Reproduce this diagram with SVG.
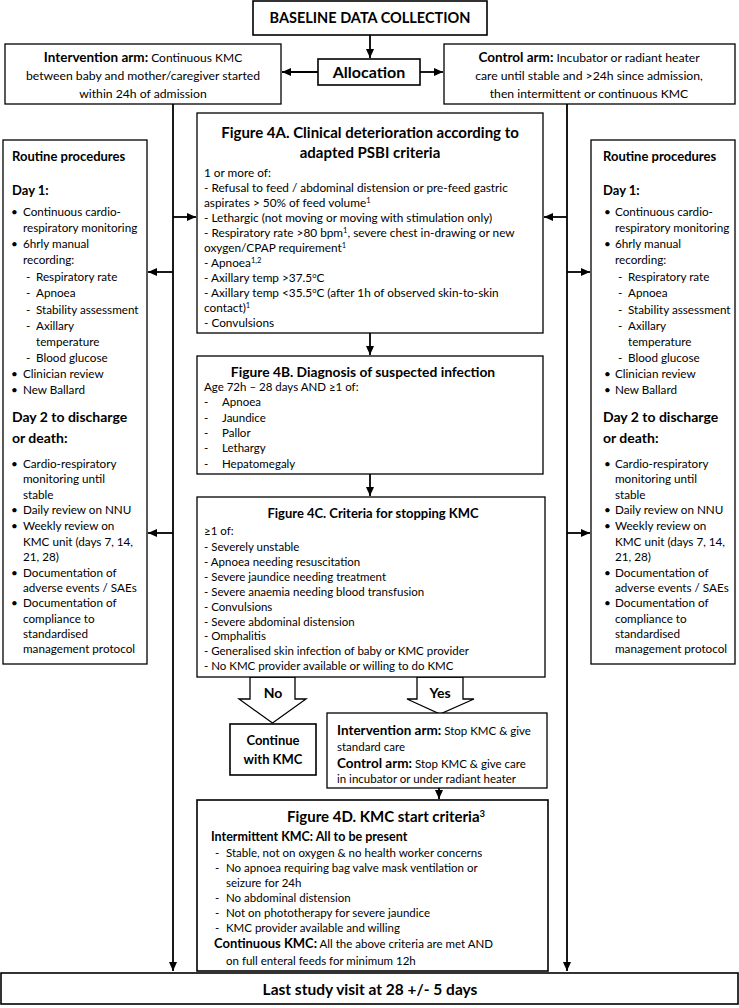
<svg xmlns="http://www.w3.org/2000/svg" width="739" height="1008" viewBox="0 0 739 1008">
<defs>
<marker id="ah" markerWidth="9" markerHeight="8" refX="9" refY="4" orient="auto" markerUnits="userSpaceOnUse">
<path d="M0,0 L9,4 L0,8 Z" fill="#000"/>
</marker>
<style>
text{font-family:Lato,"Liberation Sans",sans-serif;fill:#000}
.box{fill:#fff;stroke:#000;stroke-width:1.3}
.bx{fill:#fff;stroke:#000;stroke-width:1.6}
.ln{stroke:#000;stroke-width:1.8;fill:none}
.b{font-weight:bold}
.t13{font-size:13px;font-weight:bold}
.t14{font-size:14px;font-weight:bold}
.s11{font-size:11px}
.s115{font-size:11.5px}
.s118{font-size:11.8px}
.s12{font-size:11.7px}
.c{text-anchor:middle}
</style>
</defs>
<rect width="739" height="1008" fill="#fff"/>

<g id="connectors">
<line class="ln" x1="370" y1="35" x2="370" y2="58" marker-end="url(#ah)"/>
<line class="ln" x1="318" y1="72" x2="282" y2="72" marker-end="url(#ah)"/>
<line class="ln" x1="420" y1="72" x2="443" y2="72" marker-end="url(#ah)"/>
<line class="ln" x1="173" y1="104" x2="173" y2="971" marker-end="url(#ah)"/>
<line class="ln" x1="567" y1="104" x2="567" y2="971" marker-end="url(#ah)"/>
<line class="ln" x1="173" y1="217" x2="196" y2="217" marker-end="url(#ah)"/>
<line class="ln" x1="567" y1="217" x2="544" y2="217" marker-end="url(#ah)"/>
<line class="ln" x1="173" y1="272" x2="148" y2="272" marker-end="url(#ah)"/>
<line class="ln" x1="567" y1="272" x2="590" y2="272" marker-end="url(#ah)"/>
<line class="ln" x1="173" y1="533" x2="148" y2="533" marker-end="url(#ah)"/>
<line class="ln" x1="567" y1="533" x2="590" y2="533" marker-end="url(#ah)"/>
<line class="ln" x1="370" y1="333" x2="370" y2="355" marker-end="url(#ah)"/>
<line class="ln" x1="370" y1="474" x2="370" y2="496" marker-end="url(#ah)"/>
<line class="ln" x1="439" y1="788" x2="439" y2="799" marker-end="url(#ah)"/>
<polygon class="box" points="250,677 295,677 295,699 306,699 272.5,723 239,699 250,699"/>
<polygon class="box" points="417,677 463,677 463,699 474,699 440,714 407,699 417,699"/>
<text class="t14 c" x="273" y="698">No</text>
<text class="t14 c" x="440" y="698">Yes</text>
</g>

<g id="baseline">
<rect class="bx" x="253" y="1" width="234" height="34"/>
<text class="c b" x="370" y="23" font-size="14.5">BASELINE DATA COLLECTION</text>
</g>

<g id="allocation">
<rect class="bx" x="318" y="59" width="102" height="26"/>
<text class="c b" x="369" y="77.5" font-size="16">Allocation</text>
</g>

<g id="intervention-arm">
<rect class="box" x="5" y="44" width="276" height="60"/>
<text class="c" x="143" y="62"><tspan class="b" font-size="13.5">Intervention arm:</tspan><tspan font-size="12"> Continuous KMC</tspan></text>
<text class="c" font-size="12.2" x="143" y="80">between baby and mother/caregiver started</text>
<text class="c" font-size="12.2" x="143" y="98">within 24h of admission</text>
</g>

<g id="control-arm">
<rect class="box" x="444" y="44" width="291" height="60"/>
<text class="c" x="589" y="62"><tspan class="b" font-size="13.5">Control arm:</tspan><tspan font-size="12.2"> Incubator or radiant heater</tspan></text>
<text class="c" font-size="12.2" x="589" y="80">care until stable and &gt;24h since admission,</text>
<text class="c" font-size="12.2" x="589" y="98">then intermittent or continuous  KMC</text>
</g>

<g id="routine-left">
<rect class="box" x="3" y="140" width="144" height="524"/>
<text class="t13" x="12" y="161">Routine procedures</text>
<text class="t13" x="12" y="195">Day 1:</text>
<g class="s12">
<text x="11" y="216">•</text><text x="23" y="216">Continuous cardio-</text>
<text x="23" y="232">respiratory monitoring</text>
<text x="11" y="248">•</text><text x="23" y="248">6hrly manual</text>
<text x="23" y="264">recording:</text>
<text x="26" y="281">-</text><text x="36" y="281">Respiratory rate</text>
<text x="26" y="297">-</text><text x="36" y="297">Apnoea</text>
<text x="26" y="314">-</text><text x="36" y="314">Stability assessment</text>
<text x="26" y="330">-</text><text x="36" y="330">Axillary</text>
<text x="36" y="346">temperature</text>
<text x="26" y="362">-</text><text x="36" y="362">Blood glucose</text>
<text x="11" y="378">•</text><text x="23" y="378">Clinician review</text>
<text x="11" y="394">•</text><text x="23" y="394">New Ballard</text>
</g>
<text class="t14" x="12" y="422">Day 2 to discharge</text>
<text class="t14" x="12" y="443">or death:</text>
<g class="s12">
<text x="11" y="468">•</text><text x="23" y="468">Cardio-respiratory</text>
<text x="23" y="483">monitoring until</text>
<text x="23" y="499">stable</text>
<text x="11" y="514">•</text><text x="23" y="514">Daily review on NNU</text>
<text x="11" y="530">•</text><text x="23" y="530">Weekly review on</text>
<text x="23" y="546">KMC unit (days 7, 14,</text>
<text x="23" y="561">21, 28)</text>
<text x="11" y="577">•</text><text x="23" y="577">Documentation of</text>
<text x="23" y="592">adverse events / SAEs</text>
<text x="11" y="607">•</text><text x="23" y="607">Documentation of</text>
<text x="23" y="623">compliance to</text>
<text x="23" y="638">standardised</text>
<text x="23" y="653">management protocol</text>
</g>
</g>

<g id="routine-right">
<rect class="box" x="591" y="140" width="144" height="524"/>
<text class="t13" x="603" y="161">Routine procedures</text>
<text class="t13" x="603" y="195">Day 1:</text>
<g class="s12">
<text x="604" y="216">•</text><text x="615" y="216">Continuous cardio-</text>
<text x="615" y="232">respiratory monitoring</text>
<text x="604" y="248">•</text><text x="615" y="248">6hrly manual</text>
<text x="615" y="264">recording:</text>
<text x="618" y="281">-</text><text x="628" y="281">Respiratory rate</text>
<text x="618" y="297">-</text><text x="628" y="297">Apnoea</text>
<text x="618" y="314">-</text><text x="628" y="314">Stability assessment</text>
<text x="618" y="330">-</text><text x="628" y="330">Axillary</text>
<text x="628" y="346">temperature</text>
<text x="618" y="362">-</text><text x="628" y="362">Blood glucose</text>
<text x="604" y="378">•</text><text x="615" y="378">Clinician review</text>
<text x="604" y="394">•</text><text x="615" y="394">New Ballard</text>
</g>
<text class="t14" x="603" y="422">Day 2 to discharge</text>
<text class="t14" x="603" y="443">or death:</text>
<g class="s12">
<text x="604" y="468">•</text><text x="615" y="468">Cardio-respiratory</text>
<text x="615" y="483">monitoring until</text>
<text x="615" y="499">stable</text>
<text x="604" y="514">•</text><text x="615" y="514">Daily review on NNU</text>
<text x="604" y="530">•</text><text x="615" y="530">Weekly review on</text>
<text x="615" y="546">KMC unit (days 7, 14,</text>
<text x="615" y="561">21, 28)</text>
<text x="604" y="577">•</text><text x="615" y="577">Documentation of</text>
<text x="615" y="592">adverse events / SAEs</text>
<text x="604" y="607">•</text><text x="615" y="607">Documentation of</text>
<text x="615" y="623">compliance to</text>
<text x="615" y="638">standardised</text>
<text x="615" y="653">management protocol</text>
</g>
</g>

<g id="fig4a">
<rect class="box" x="197" y="113" width="346" height="220"/>
<text class="b c" font-size="15" x="370" y="138">Figure 4A. Clinical deterioration according to</text>
<text class="b c" font-size="15" x="370" y="158">adapted PSBI criteria</text>
<g class="s118">
<text x="204" y="177">1 or more of:</text>
<text x="204" y="192">- Refusal to feed / abdominal distension or pre-feed gastric</text>
<text x="204" y="207">aspirates &gt; 50% of feed volume<tspan dy="-4" font-size="7.5">1</tspan></text>
<text x="204" y="222">- Lethargic (not moving or moving with stimulation only)</text>
<text x="204" y="237">- Respiratory rate &gt;80 bpm<tspan dy="-4" font-size="7.5">1</tspan><tspan dy="4">, severe chest in-drawing or new</tspan></text>
<text x="204" y="252">oxygen/CPAP requirement<tspan dy="-4" font-size="7.5">1</tspan></text>
<text x="204" y="267">- Apnoea<tspan dy="-4" font-size="7.5">1,2</tspan></text>
<text x="204" y="282">- Axillary temp &gt;37.5<tspan dy="-4" font-size="7.5">o</tspan><tspan dy="4">C</tspan></text>
<text x="204" y="297">- Axillary temp &lt;35.5<tspan dy="-4" font-size="7.5">o</tspan><tspan dy="4">C (after 1h of observed skin-to-skin</tspan></text>
<text x="204" y="312">contact)<tspan dy="-4" font-size="7.5">1</tspan></text>
<text x="204" y="327">- Convulsions</text>
</g>
</g>

<g id="fig4b">
<rect class="box" x="197" y="356" width="346" height="118"/>
<text class="b c" font-size="13.8" x="363" y="377">Figure 4B.  Diagnosis of suspected infection</text>
<g class="s115">
<text x="204" y="391">Age 72h – 28 days AND ≥1 of:</text>
<text x="204" y="406">-</text><text x="222" y="406">Apnoea</text>
<text x="204" y="422">-</text><text x="222" y="422">Jaundice</text>
<text x="204" y="437">-</text><text x="222" y="437">Pallor</text>
<text x="204" y="452">-</text><text x="222" y="452">Lethargy</text>
<text x="204" y="468">-</text><text x="222" y="468">Hepatomegaly</text>
</g>
</g>

<g id="fig4c">
<rect class="box" x="197" y="497" width="348" height="180"/>
<text class="t13 c" x="373" y="518">Figure 4C.  Criteria for stopping KMC</text>
<g class="s115">
<text x="204" y="535">≥1 of:</text>
<text x="204" y="551">- Severely unstable</text>
<text x="204" y="566">- Apnoea  needing resuscitation</text>
<text x="204" y="581">- Severe jaundice needing treatment</text>
<text x="204" y="596">- Severe anaemia needing blood transfusion</text>
<text x="204" y="611">- Convulsions</text>
<text x="204" y="626">- Severe abdominal distension</text>
<text x="204" y="640">- Omphalitis</text>
<text x="204" y="655">- Generalised skin infection of baby or KMC provider</text>
<text x="204" y="670">- No KMC provider available  or willing to do KMC</text>
</g>
</g>

<g id="continue-kmc">
<rect class="bx" x="230" y="724" width="86" height="51"/>
<text class="t13 c" x="273" y="745">Continue</text>
<text class="t13 c" x="273" y="764">with KMC</text>
</g>

<g id="stop-kmc">
<rect class="box" x="327" y="713" width="220" height="75"/>
<text x="337" y="735"><tspan class="b" font-size="13.5">Intervention arm:</tspan><tspan font-size="11.5"> Stop KMC &amp; give</tspan></text>
<text class="s115" x="337" y="751">standard care</text>
<text x="337" y="768"><tspan class="b" font-size="13.5">Control arm:</tspan><tspan font-size="11.5"> Stop KMC &amp; give care</tspan></text>
<text class="s115" x="337" y="783">in incubator or under radiant heater</text>
</g>

<g id="fig4d">
<rect class="bx" x="197" y="800" width="351" height="171"/>
<text class="b" x="287" y="822" font-size="15">Figure 4D. KMC start criteria<tspan dy="-5" font-size="9.5">3</tspan></text>
<text class="b" x="211" y="841" font-size="12.5">Intermittent KMC: All to be present</text>
<g class="s115">
<text x="215" y="857">-</text><text x="226" y="857">Stable, not on oxygen &amp; no health worker concerns</text>
<text x="215" y="872">-</text><text x="226" y="872">No apnoea requiring bag valve mask ventilation or</text>
<text x="226" y="887">seizure for 24h</text>
<text x="215" y="902">-</text><text x="226" y="902">No abdominal distension</text>
<text x="215" y="917">-</text><text x="226" y="917">Not on phototherapy  for severe jaundice</text>
<text x="215" y="932">-</text><text x="226" y="932">KMC provider available and willing</text>
</g>
<text x="214" y="948"><tspan class="b" font-size="13">Continuous KMC:</tspan><tspan font-size="11.5"> All the above  criteria are met AND</tspan></text>
<text class="s115" x="226" y="965">on full enteral feeds for minimum 12h</text>
</g>

<g id="last-visit">
<rect class="bx" x="1" y="973" width="737" height="31"/>
<text class="c b" x="370" y="995" font-size="15.5">Last study visit at 28 +/- 5 days</text>
</g>
</svg>
